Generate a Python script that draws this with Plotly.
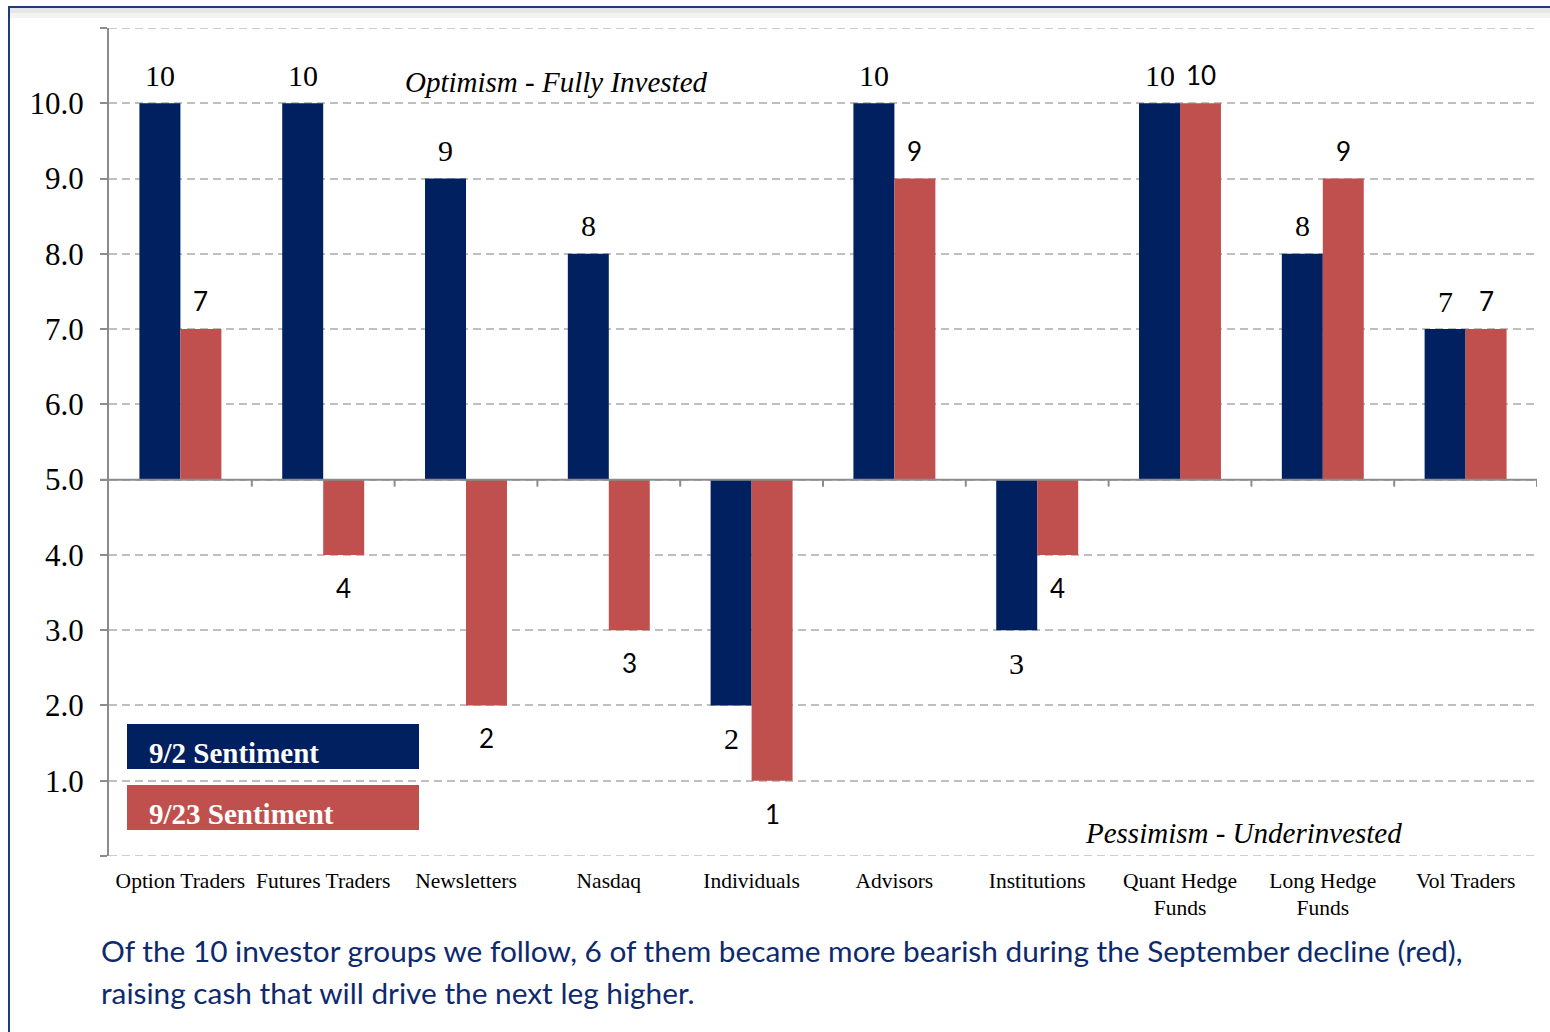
import plotly.graph_objects as go

# ---------------- data ----------------
categories = ["Option Traders", "Futures Traders", "Newsletters", "Nasdaq", "Individuals",
              "Advisors", "Institutions", "Quant Hedge Funds", "Long Hedge Funds", "Vol Traders"]
tick_labels = ["Option Traders", "Futures Traders", "Newsletters", "Nasdaq", "Individuals",
               "Advisors", "Institutions", "Quant Hedge<br>Funds", "Long Hedge<br>Funds", "Vol Traders"]
sent_sep2 = [10, 10, 9, 8, 2, 10, 3, 10, 8, 7]
sent_sep23 = [7, 4, 2, 3, 1, 9, 4, 10, 9, 7]
BASELINE = 5
Y_MIN, Y_MAX = 0, 11
y_ticks = [0, 1, 2, 3, 4, 5, 6, 7, 8, 9, 10, 11]
y_tick_text = ["", "1.0", "2.0", "3.0", "4.0", "5.0", "6.0", "7.0", "8.0", "9.0", "10.0", ""]
series_names = ["9/2 Sentiment", "9/23 Sentiment"]

BLUE = "#002060"
RED = "#C0504D"
GRID = "#BFBFBF"
AXIS = "#8C8C8C"
SERIF = "Liberation Serif, Times New Roman, serif"
SANS = "Lato, Carlito, Calibri, sans-serif"

W, H = 1550, 1032
L, R, T, B = 109, 13, 28, 176
PW, PH = W - L - R, H - T - B


def px(xp):
    return (xp - L) / PW


def py(yp):
    return (H - B - yp) / PH


fig = go.Figure()
fig.add_trace(go.Bar(x=categories, y=[v - BASELINE for v in sent_sep2], base=BASELINE,
                     name=series_names[0], marker=dict(color=BLUE, line=dict(width=0))))
fig.add_trace(go.Bar(x=categories, y=[v - BASELINE for v in sent_sep23], base=BASELINE,
                     name=series_names[1], marker=dict(color=RED, line=dict(width=0))))

annotations = []
# value labels
for i, c in enumerate(categories):
    for vals, xs, fam, fs in ((sent_sep2, -20.5, SERIF, 30), (sent_sep23, 20.5, SANS, 26)):
        v = vals[i]
        annotations.append(dict(x=c, y=v, xref="x", yref="y", text=str(v), showarrow=False,
                                xanchor="center", yanchor="middle",
                                xshift=xs, yshift=28 if v > BASELINE else -33,
                                font=dict(family=fam, size=fs, color="#000000")))

# region labels
annotations.append(dict(x=px(556), y=py(82), xref="paper", yref="paper",
                        xanchor="center", yanchor="middle",
                        text="<i>Optimism - Fully Invested</i>", showarrow=False,
                        font=dict(family=SERIF, size=29, color="#000000")))
annotations.append(dict(x=px(1243), y=py(833), xref="paper", yref="paper",
                        xanchor="center", yanchor="middle",
                        text="<i>Pessimism - Underinvested</i>", showarrow=False,
                        font=dict(family=SERIF, size=29, color="#000000")))

# custom legend text
annotations.append(dict(x=px(147), y=py(753), xref="paper", yref="paper",
                        xanchor="left", yanchor="middle",
                        text="<b>" + series_names[0] + "</b>", showarrow=False,
                        font=dict(family=SERIF, size=29, color="#FFFFFF")))
annotations.append(dict(x=px(147), y=py(814), xref="paper", yref="paper",
                        xanchor="left", yanchor="middle",
                        text="<b>" + series_names[1] + "</b>", showarrow=False,
                        font=dict(family=SERIF, size=29, color="#FFFFFF")))

# bottom commentary
annotations.append(dict(x=px(99), y=py(950), xref="paper", yref="paper",
                        xanchor="left", yanchor="middle",
                        text="Of the 10 investor groups we follow, 6 of them became more bearish during the September decline (red),",
                        showarrow=False, font=dict(family=SANS, size=29.8, color="#0E2A6E")))
annotations.append(dict(x=px(99), y=py(992), xref="paper", yref="paper",
                        xanchor="left", yanchor="middle",
                        text="raising cash that will drive the next leg higher.",
                        showarrow=False, font=dict(family=SANS, size=29.8, color="#0E2A6E")))

shapes = []
# gridlines at the range edges
for yv in (Y_MIN, Y_MAX):
    shapes.append(dict(type="line", xref="paper", yref="y", x0=0, x1=1, y0=yv, y1=yv,
                       line=dict(color=GRID, width=1.5, dash="8px,5px"), layer="below"))
# legend boxes
shapes.append(dict(type="rect", xref="paper", yref="paper", x0=px(127), x1=px(419),
                   y0=py(769), y1=py(724), fillcolor=BLUE, line=dict(width=0), layer="above"))
shapes.append(dict(type="rect", xref="paper", yref="paper", x0=px(127), x1=px(419),
                   y0=py(830), y1=py(785), fillcolor=RED, line=dict(width=0), layer="above"))
# baseline axis at 5.0 with category boundary ticks
shapes.append(dict(type="line", xref="paper", yref="y", x0=px(100), x1=1, y0=BASELINE, y1=BASELINE,
                   line=dict(color=AXIS, width=2), layer="above"))
for i in range(len(categories)):
    shapes.append(dict(type="line", xref="x", yref="y", ysizemode="pixel", yanchor=BASELINE,
                       x0=i + 0.5, x1=i + 0.5, y0=0, y1=-7,
                       line=dict(color=AXIS, width=2), layer="above"))
# outer frame
shapes.append(dict(type="rect", xref="paper", yref="paper", x0=px(9), x1=px(1600),
                   y0=py(1100), y1=py(7), fillcolor="rgba(0,0,0,0)",
                   line=dict(color="#1F3C7A", width=2), layer="above"))
shapes.append(dict(type="rect", xref="paper", yref="paper", x0=px(10), x1=px(1600),
                   y0=py(13), y1=py(8), fillcolor="#E6E6E6", line=dict(width=0), layer="below"))
shapes.append(dict(type="rect", xref="paper", yref="paper", x0=px(10), x1=px(1600),
                   y0=py(18), y1=py(13), fillcolor="#F3F3F3", line=dict(width=0), layer="below"))

fig.update_layout(
    width=W, height=H, autosize=False,
    margin=dict(l=L, r=R, t=T, b=B, pad=0),
    paper_bgcolor="#FFFFFF", plot_bgcolor="#FFFFFF",
    barmode="group", bargap=0.426, bargroupgap=0,
    showlegend=False,
    annotations=annotations, shapes=shapes,
    xaxis=dict(type="category", range=[-0.5, len(categories) - 0.5],
               tickmode="array", tickvals=categories, ticktext=tick_labels,
               showgrid=False, zeroline=False, showline=False, ticks="",
               ticklabelstandoff=9,
               tickfont=dict(family=SERIF, size=21.5, color="#000000")),
    yaxis=dict(range=[Y_MIN, Y_MAX], tickmode="array", tickvals=y_ticks, ticktext=y_tick_text,
               showgrid=True, gridcolor=GRID, gridwidth=1.5, griddash="8px,5px",
               zeroline=False, showline=True, linecolor=AXIS, linewidth=2,
               ticks="outside", ticklen=7, tickcolor=AXIS, tickwidth=2,
               ticklabelstandoff=10,
               tickfont=dict(family=SERIF, size=31, color="#000000")),
)

fig.write_html("out.html", config={"displayModeBar": False},
               post_script="document.body.style.margin='0';document.body.style.overflow='hidden';")
